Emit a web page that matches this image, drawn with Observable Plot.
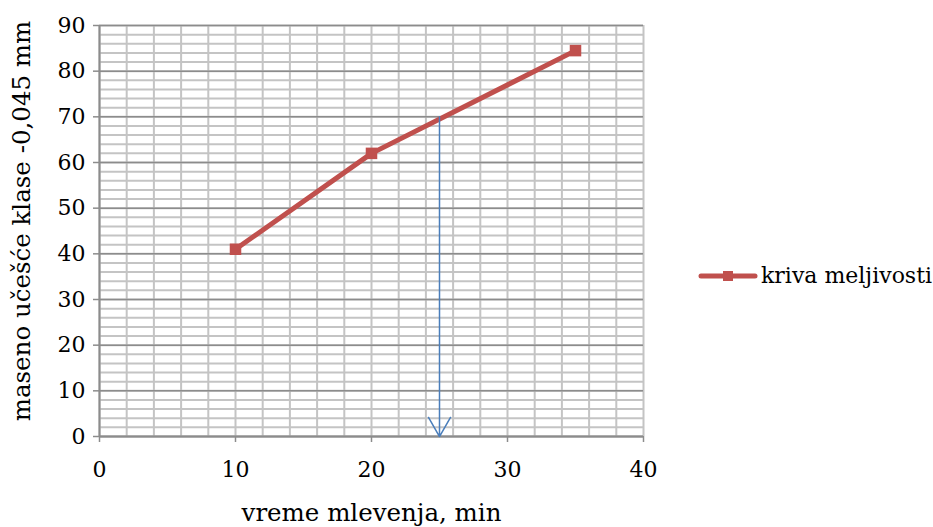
<!DOCTYPE html>
<html>
<head>
<meta charset="utf-8">
<script src="https://cdn.jsdelivr.net/npm/d3@7"></script>
<script src="https://cdn.jsdelivr.net/npm/@observablehq/plot@0.6"></script>
<style>
  html, body { margin: 0; padding: 0; background: #fff; }
  #wrap { position: relative; width: 933px; height: 527px; }
  #legend { position: absolute; left: 698px; top: 263px; display: flex; align-items: center;
    font-family: "DejaVu Serif", serif; font-size: 22px; color: #000; }
</style>
</head>
<body>
<div id="wrap">
  <div id="chart"></div>
  <div id="legend">
    <svg width="60" height="16" style="margin-right:3px">
      <line x1="3" y1="8" x2="57" y2="8" stroke="#c0504d" stroke-width="5" stroke-linecap="round"></line>
      <rect x="25" y="3" width="10" height="10" fill="#c0504d"></rect>
    </svg>
    <span>kriva meljivosti</span>
  </div>
</div>
<script>
const time = [10, 20, 35];
const share = [41, 62, 84.5];
const seriesName = "kriva meljivosti";
const xTitle = "vreme mlevenja, min";
const yTitle = "maseno učešće klase -0,045 mm";
const arrowX = 25;
const arrowFrom = 70;
const arrowTo = 0;
const xTicks = [0, 10, 20, 30, 40];
const yTicks = [0, 10, 20, 30, 40, 50, 60, 70, 80, 90];
const xMinor = d3.range(0, 41, 2);
const yMinor = d3.range(0, 91, 2);

const data = time.map((t, i) => ({time: t, share: share[i]}));

const chart = Plot.plot({
  width: 933,
  height: 527,
  marginLeft: 99,
  marginRight: 290,
  marginTop: 25,
  marginBottom: 91,
  style: {fontFamily: "DejaVu Serif, serif", fontSize: "22px", color: "#000", background: "#fff"},
  x: {domain: [0, 40]},
  y: {domain: [0, 90]},
  marks: [
    Plot.ruleY(yMinor, {stroke: "#c4c4c4", strokeWidth: 2, strokeOpacity: 1}),
    Plot.ruleX(xMinor, {stroke: "#c4c4c4", strokeWidth: 2, strokeOpacity: 1}),
    Plot.ruleY(yTicks, {stroke: "#8c8c8c", strokeWidth: 1.5, strokeOpacity: 1}),
    Plot.axisX({ticks: xTicks, tickSize: 6, tickPadding: 19, stroke: "#8c8c8c", strokeWidth: 1.5,
      fontSize: 22, label: null}),
    Plot.axisY({ticks: yTicks, tickSize: 6, tickPadding: 8, stroke: "#8c8c8c", strokeWidth: 1.5,
      fontSize: 22, label: null}),
    Plot.text([xTitle], {frameAnchor: "bottom", dy: 77, fontSize: 24.5, lineAnchor: "middle"}),
    Plot.text([yTitle], {frameAnchor: "left", textAnchor: "middle", rotate: -90, dx: -77, dy: -10, fontSize: 24.5, lineAnchor: "middle"}),
    Plot.ruleX([0], {stroke: "#8c8c8c", strokeWidth: 2}),
    Plot.ruleY([0], {stroke: "#8c8c8c", strokeWidth: 2}),
    Plot.line(data, {x: "time", y: "share", stroke: "#c0504d", strokeWidth: 5, strokeLinecap: "round", strokeLinejoin: "round"}),
    Plot.dot(data, {x: "time", y: "share", symbol: "square", r: 6.5, fill: "#c0504d", stroke: "none"}),
    Plot.arrow([{x: arrowX, y1: arrowFrom, y2: arrowTo}], {x: "x", y1: "y1", y2: "y2", stroke: "#4a7ebb",
      strokeWidth: 1.5, headLength: 22, headAngle: 60, bend: 0})
  ]
});
document.getElementById("chart").appendChild(chart);
</script>
</body>
</html>
